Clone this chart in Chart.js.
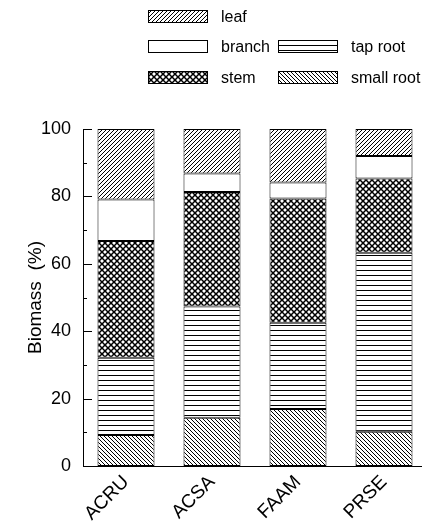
<!DOCTYPE html>
<html>
<head>
<meta charset="utf-8">
<script src="https://cdn.jsdelivr.net/npm/chart.js@4"></script>
<style>
  html, body { margin: 0; padding: 0; background: #fff; overflow: hidden; }
  #wrap { position: relative; width: 432px; height: 524px; }
  .leg-text { position: absolute; font: 16px "Liberation Sans", Arial, sans-serif; color: #000; line-height: 16px; }
  .leg-sw { position: absolute; }
</style>
</head>
<body>
<div id="wrap">
  <canvas id="chart" width="432" height="524"></canvas>
  <div id="legend"></div>
</div>
<script>
const categories = ["ACRU", "ACSA", "FAAM", "PRSE"];
const smallRoot = [9.2, 14.3, 16.9, 10.2];
const tapRoot = [22.9, 33.0, 25.6, 53.1];
const stem = [34.7, 34.0, 36.9, 22.0];
const branch = [12.3, 5.5, 4.7, 6.7];
const leaf = [20.9, 13.2, 15.9, 8.0];
const yTicks = [0, 20, 40, 60, 80, 100];

const FONT = '"Liberation Sans", Arial, sans-serif';

// hatch fills, one small tile per pattern
function makePattern(kind) {
  const s = kind === "stem" ? 6 : 4;
  const c = document.createElement("canvas");
  c.width = s;
  c.height = kind === "tapRoot" ? 5 : s;
  const g = c.getContext("2d");
  g.fillStyle = "#fff";
  g.fillRect(0, 0, c.width, c.height);
  g.strokeStyle = "#000";
  g.fillStyle = "#000";
  g.lineWidth = 1;
  const up = () => {
    g.beginPath();
    g.moveTo(0, s); g.lineTo(s, 0);
    g.moveTo(-1, 1); g.lineTo(1, -1);
    g.moveTo(s - 1, s + 1); g.lineTo(s + 1, s - 1);
    g.stroke();
  };
  const down = () => {
    g.beginPath();
    g.moveTo(0, 0); g.lineTo(s, s);
    g.moveTo(-1, s - 1); g.lineTo(1, s + 1);
    g.moveTo(s - 1, -1); g.lineTo(s + 1, 1);
    g.stroke();
  };
  if (kind === "leaf") up();
  if (kind === "smallRoot") down();
  if (kind === "stem") { g.lineWidth = 1.5; up(); down(); }
  if (kind === "tapRoot") g.fillRect(0, 0, s, 1);
  return g.createPattern(c, "repeat");
}

const fills = {
  leaf: makePattern("leaf"),
  branch: "#ffffff",
  stem: makePattern("stem"),
  tapRoot: makePattern("tapRoot"),
  smallRoot: makePattern("smallRoot"),
};

const series = [
  { label: "small root", key: "smallRoot", data: smallRoot },
  { label: "tap root", key: "tapRoot", data: tapRoot },
  { label: "stem", key: "stem", data: stem },
  { label: "branch", key: "branch", data: branch },
  { label: "leaf", key: "leaf", data: leaf },
];

// legend laid out like the figure: two columns
const legendItems = [
  { key: "leaf", label: "leaf", x: 148, y: 10 },
  { key: "branch", label: "branch", x: 148, y: 40 },
  { key: "stem", label: "stem", x: 148, y: 71 },
  { key: "tapRoot", label: "tap root", x: 278, y: 40 },
  { key: "smallRoot", label: "small root", x: 278, y: 71 },
];
const legendEl = document.getElementById("legend");
legendItems.forEach((it) => {
  const sw = document.createElement("canvas");
  sw.width = 60;
  sw.height = 13;
  sw.className = "leg-sw";
  sw.style.left = it.x + "px";
  sw.style.top = it.y + "px";
  const g = sw.getContext("2d");
  g.fillStyle = fills[it.key];
  g.fillRect(0, 0, 60, 13);
  g.strokeStyle = "#000";
  g.lineWidth = 1;
  g.strokeRect(0.5, 0.5, 59, 12);
  legendEl.appendChild(sw);
  const t = document.createElement("div");
  t.className = "leg-text";
  t.textContent = it.label;
  t.style.left = it.x + 73 + "px";
  t.style.top = it.y - 1 + "px";
  legendEl.appendChild(t);
});

// tick marks pointing into the plot, long at labelled values
const innerTicks = {
  id: "innerTicks",
  afterDraw(chart) {
    const { ctx } = chart;
    const y = chart.scales.y;
    const left = chart.chartArea.left;
    ctx.save();
    ctx.strokeStyle = "#000";
    ctx.lineWidth = 1;
    for (let v = 0; v <= 100; v += 10) {
      const py = Math.round(y.getPixelForValue(v)) + 0.5;
      const len = yTicks.includes(v) ? 9 : 4;
      ctx.beginPath();
      ctx.moveTo(left, py);
      ctx.lineTo(left + len, py);
      ctx.stroke();
    }
    ctx.restore();
  },
};

new Chart(document.getElementById("chart"), {
  type: "bar",
  data: {
    labels: categories,
    datasets: series.map((s) => ({
      label: s.label,
      data: s.data,
      backgroundColor: fills[s.key],
      borderColor: "#000",
      borderWidth: 1,
      borderSkipped: false,
      barPercentage: 0.663,
      categoryPercentage: 1,
    })),
  },
  options: {
    responsive: false,
    animation: false,
    layout: { padding: { left: 0, right: 5, top: 129, bottom: 0 } },
    plugins: {
      legend: { display: false },
      tooltip: { enabled: false },
    },
    scales: {
      x: {
        stacked: true,
        grid: { display: false, drawTicks: false },
        border: { display: true, color: "#000", width: 1 },
        ticks: {
          color: "#000",
          font: { family: FONT, size: 19 },
          minRotation: 45,
          maxRotation: 45,
          padding: 5,
        },
        afterFit: (s) => { s.height = 58; },
      },
      y: {
        stacked: true,
        min: 0,
        max: 100,
        grid: { display: false, drawTicks: false },
        border: { display: true, color: "#000", width: 1 },
        ticks: {
          stepSize: 10,
          color: "#000",
          font: { family: FONT, size: 18 },
          padding: 12,
          callback: (v) => (yTicks.includes(v) ? String(v) : ""),
        },
        title: {
          display: true,
          text: "Biomass  (%)",
          color: "#000",
          font: { family: FONT, size: 19 },
          padding: { top: 24, bottom: 0 },
        },
        afterFit: (s) => { s.width = 83; },
      },
    },
  },
  plugins: [innerTicks],
});
</script>
</body>
</html>
